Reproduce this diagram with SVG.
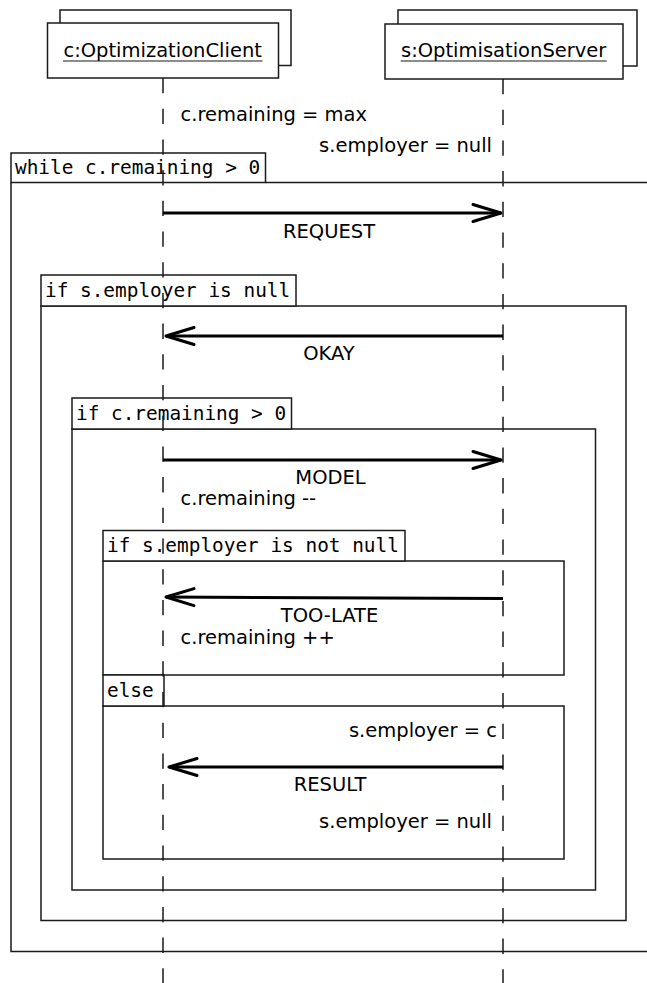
<svg xmlns="http://www.w3.org/2000/svg" width="647" height="983" viewBox="0 0 647 983">
  <style>
    .bg { fill: #ffffff; }
    .box { fill: #ffffff; stroke: #1a1a1a; stroke-width: 1.5; }
    .frame { fill: none; stroke: #1a1a1a; stroke-width: 1.5; }
    .tag { fill: #ffffff; stroke: #1a1a1a; stroke-width: 1.5; }
    .life { stroke: #1a1a1a; stroke-width: 1.5; stroke-dasharray: 15.3 15.4; fill: none; }
    .msg { stroke: #000000; stroke-width: 3; fill: none; }
    .uline { stroke: #1a1a1a; stroke-width: 1.2; }
    .sans { font-family: "DejaVu Sans", "Liberation Sans", sans-serif; font-size: 19.5px; fill: #000000; }
    .mono { font-family: "DejaVu Sans Mono", "Liberation Mono", monospace; font-size: 19.4px; fill: #000000; }
    .mid { text-anchor: middle; }
    .end { text-anchor: end; }
  </style>
  <defs>
    <marker id="open" markerUnits="userSpaceOnUse" orient="auto" overflow="visible" refX="0" refY="0" markerWidth="32" markerHeight="20">
      <path d="M-28,-8.5 L0,0 L-28,8.5" fill="none" stroke="#000000" stroke-width="3" stroke-linejoin="round" stroke-linecap="round"/>
    </marker>
  </defs>

  <rect class="bg" x="0" y="0" width="647" height="983"/>

  <!-- combined fragments -->
  <g id="loop-while">
    <rect class="tag" x="11" y="153" width="254.5" height="29.5"/>
    <text class="mono" x="15" y="174">while c.remaining &gt; 0</text>
    <path class="frame" d="M265.5,182.5 H648 M11,182.5 V951.5 H648"/>
  </g>

  <g id="alt-employer-null">
    <rect class="frame" x="41" y="306" width="585" height="614.5"/>
    <rect class="tag" x="41" y="275" width="255" height="31"/>
    <text class="mono" x="45" y="297">if s.employer is null</text>
  </g>

  <g id="alt-remaining">
    <rect class="frame" x="72" y="429" width="523.5" height="461"/>
    <rect class="tag" x="72" y="398" width="219.5" height="31"/>
    <text class="mono" x="76" y="420">if c.remaining &gt; 0</text>
  </g>

  <g id="alt-employer-set">
    <rect class="frame" x="103" y="561" width="461" height="114"/>
    <rect class="tag" x="103" y="530.5" width="302" height="30.5"/>
    <text class="mono" x="107" y="552">if s.employer is not null</text>
    <rect class="frame" x="103" y="706" width="461" height="153"/>
    <rect class="tag" x="103" y="675" width="61" height="31"/>
    <text class="mono" x="107" y="697">else</text>
  </g>

  <!-- lifelines -->
  <g id="client">
    <rect class="box" x="60" y="10" width="231" height="55.5"/>
    <rect class="box" x="47.5" y="23" width="231" height="55"/>
    <text class="sans mid" x="162.7" y="56.5">c:OptimizationClient</text>
    <line class="uline" x1="63" y1="61" x2="262.5" y2="61"/>
    <line class="life" x1="163" y1="78" x2="163" y2="983"/>
    <text class="sans" x="180.5" y="121">c.remaining = max</text>
    <text class="sans" x="180.5" y="505">c.remaining --</text>
    <text class="sans" x="180.5" y="644">c.remaining ++</text>
  </g>

  <g id="server">
    <rect class="box" x="398" y="10" width="239" height="56"/>
    <rect class="box" x="385" y="24" width="238" height="55"/>
    <text class="sans mid" x="503.7" y="56.5">s:OptimisationServer</text>
    <line class="uline" x1="400.7" y1="61" x2="606.7" y2="61"/>
    <line class="life" x1="503" y1="79" x2="503" y2="983"/>
    <text class="sans end" x="492" y="152">s.employer = null</text>
    <text class="sans end" x="497" y="737">s.employer = c</text>
    <text class="sans end" x="492" y="828">s.employer = null</text>
  </g>

  <!-- messages -->
  <g id="connectors">
    <line class="msg" x1="163" y1="213" x2="501" y2="213" marker-end="url(#open)"/>
    <text class="sans mid" x="329" y="238">REQUEST</text>

    <line class="msg" x1="503" y1="336" x2="166" y2="336" marker-end="url(#open)"/>
    <text class="sans mid" x="329" y="360">OKAY</text>

    <line class="msg" x1="163" y1="460" x2="501" y2="460" marker-end="url(#open)"/>
    <text class="sans mid" x="330.5" y="484">MODEL</text>

    <line class="msg" x1="503" y1="598.5" x2="166" y2="597" marker-end="url(#open)"/>
    <text class="sans mid" x="329.5" y="622">TOO-LATE</text>

    <line class="msg" x1="503" y1="767" x2="169" y2="767" marker-end="url(#open)"/>
    <text class="sans mid" x="330" y="791">RESULT</text>
  </g>
</svg>
